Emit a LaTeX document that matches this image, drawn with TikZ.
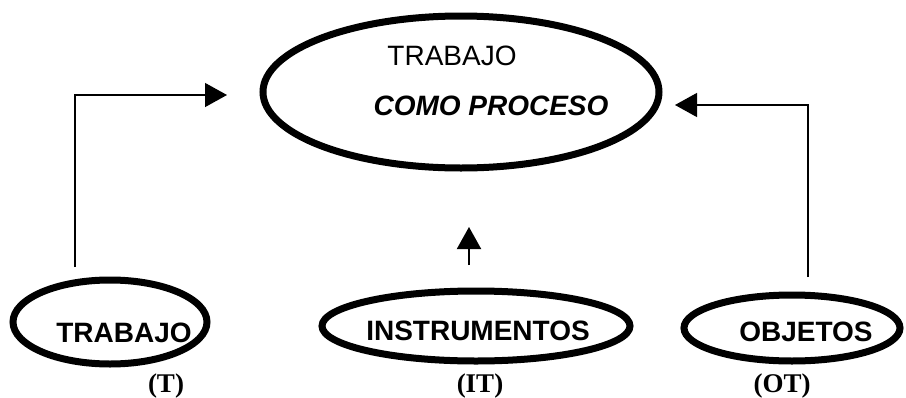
\documentclass[tikz,border=0pt]{standalone}
\usepackage{fontspec}
\setmainfont{Liberation Serif}
\setsansfont{Liberation Sans}
\usetikzlibrary{shapes.geometric,arrows.meta}
\begin{document}
\begin{tikzpicture}[x=1pt,y=-1pt,
  oval/.style={ellipse,draw,line width=7pt,inner sep=0pt},
  lbl/.style={font=\sffamily\fontsize{28}{28}\selectfont,inner sep=0pt,anchor=base},
  cod/.style={font=\rmfamily\bfseries\fontsize{27}{27}\selectfont,inner sep=0pt,anchor=base},
  conn/.style={line width=1.3pt,-{Triangle[length=22pt,width=24pt]}}]
\useasboundingbox (0,0) rectangle (906,397);
% top ellipse
\node[oval,minimum width=396pt,minimum height=152pt] (proc) at (461,92) {};
\node[lbl] (t1) at (452,65) {TRABAJO};
\node[lbl,font=\sffamily\bfseries\itshape\fontsize{28}{28}\selectfont] (t2) at (491,115) {COMO PROCESO};
% bottom ellipses
\node[oval,minimum width=194pt,minimum height=84pt] (trab) at (110,322) {};
\node[lbl,font=\sffamily\bfseries\fontsize{28}{28}\selectfont] (trabt) at (124,342) {TRABAJO};
\node[cod] (T) at (166,392) {(T)};
\node[oval,minimum width=308pt,minimum height=70pt] (inst) at (476,326) {};
\node[lbl,font=\sffamily\bfseries\fontsize{28}{28}\selectfont] (instt) at (478,340) {INSTRUMENTOS};
\node[cod] (IT) at (480,392) {(IT)};
\node[oval,minimum width=216pt,minimum height=66pt] (obj) at (792,328) {};
\node[lbl,font=\sffamily\bfseries\fontsize{28}{28}\selectfont] (objt) at (806,341) {OBJETOS};
\node[cod] (OT) at (782,392) {(OT)};
% connectors
\coordinate (ls) at (75,267);
\coordinate (lc) at (75,95);
\coordinate (le) at (227,95);
\coordinate (ms) at (469,265);
\coordinate (me) at (469,227);
\coordinate (rs) at (808,277);
\coordinate (rc) at (808,105);
\coordinate (re) at (675,105);
\draw[conn] (ls) -- (lc) -- (le);
\draw[conn,line width=2pt] (ms) -- (me);
\draw[conn] (rs) -- (rc) -- (re);
\end{tikzpicture}
\end{document}
